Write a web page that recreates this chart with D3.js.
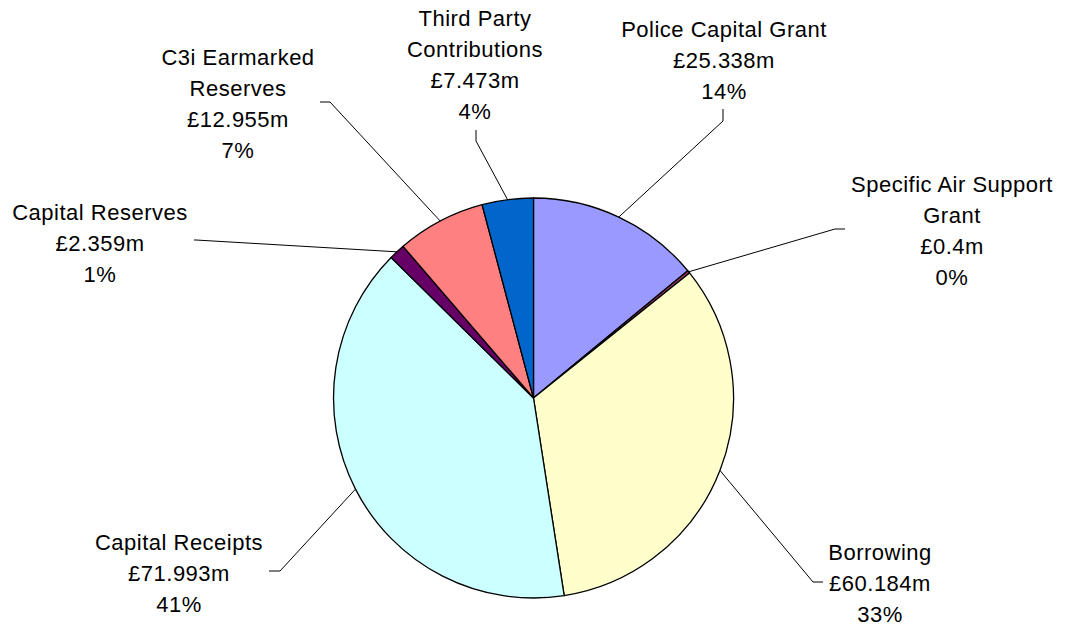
<!DOCTYPE html>
<html><head><meta charset="utf-8">
<script src="https://cdn.jsdelivr.net/npm/d3@7"></script>
<style>
html,body{margin:0;padding:0;background:#fff;}
svg{display:block;}
text{font-family:"Liberation Sans",Arial,sans-serif;font-size:22px;letter-spacing:0.5px;fill:#000;}
</style></head>
<body><svg id="chart" width="1065" height="627"></svg>
<script>
const categories = ["Police Capital Grant","Specific Air Support Grant","Borrowing","Capital Receipts","Capital Reserves","C3i Earmarked Reserves","Third Party Contributions"];
const labelLines = [["Police Capital Grant"],["Specific Air Support","Grant"],["Borrowing"],["Capital Receipts"],["Capital Reserves"],["C3i Earmarked","Reserves"],["Third Party","Contributions"]];
const values = [25.338, 0.4, 60.184, 71.993, 2.359, 12.955, 7.473];
const valueLabels = ["£25.338m","£0.4m","£60.184m","£71.993m","£2.359m","£12.955m","£7.473m"];
const percentLabels = ["14%","0%","33%","41%","1%","7%","4%"];
const colors = ["#9999FF","#993366","#FFFFCC","#CCFFFF","#660066","#FF8080","#0066CC"];

// label layout: text centre x, first-line centre y, leader elbow and end
const labelPos = [
  {x:724, y:29,  elbow:[723,121], end:[723,109]},
  {x:952, y:184, elbow:[835,229], end:[845,229]},
  {x:880, y:552, elbow:[813,582], end:[823,582]},
  {x:179, y:542, elbow:[280,571], end:[269,571]},
  {x:100, y:212, elbow:[196,240], end:[194,240]},
  {x:238, y:57,  elbow:[330,102], end:[320,102]},
  {x:475, y:18,  elbow:[476,141], end:[476,130]}
];

const svg = d3.select("#chart");
const cx = 533.5, cy = 398, r = 200;
const g = svg.append("g").attr("transform", `translate(${cx},${cy})`);
const pie = d3.pie().sort(null).value(d => d)(values);
const arc = d3.arc().innerRadius(0).outerRadius(r);

g.selectAll("path.slice").data(pie).enter().append("path")
  .attr("class","slice")
  .attr("d", arc)
  .attr("fill", (d,i) => colors[i])
  .attr("stroke", "#000").attr("stroke-width", 1.3).attr("stroke-linejoin","round");

// leader lines
const line = d3.line();
svg.selectAll("path.leader").data(pie).enter().append("path")
  .attr("class","leader")
  .attr("d", (d,i) => {
    const a = (d.startAngle + d.endAngle) / 2;
    const p0 = [cx + r*Math.sin(a), cy - r*Math.cos(a)];
    return line([p0, labelPos[i].elbow, labelPos[i].end]);
  })
  .attr("fill","none").attr("stroke","#000").attr("stroke-width",1);

// labels
const lh = 31;
categories.forEach((c,i) => {
  const lines = labelLines[i].concat([valueLabels[i], percentLabels[i]]);
  const t = svg.append("text").attr("text-anchor","middle");
  lines.forEach((s,j) => {
    t.append("tspan").attr("x", labelPos[i].x).attr("y", labelPos[i].y + j*lh)
      .attr("dy","0.35em").text(s);
  });
});
</script></body></html>
